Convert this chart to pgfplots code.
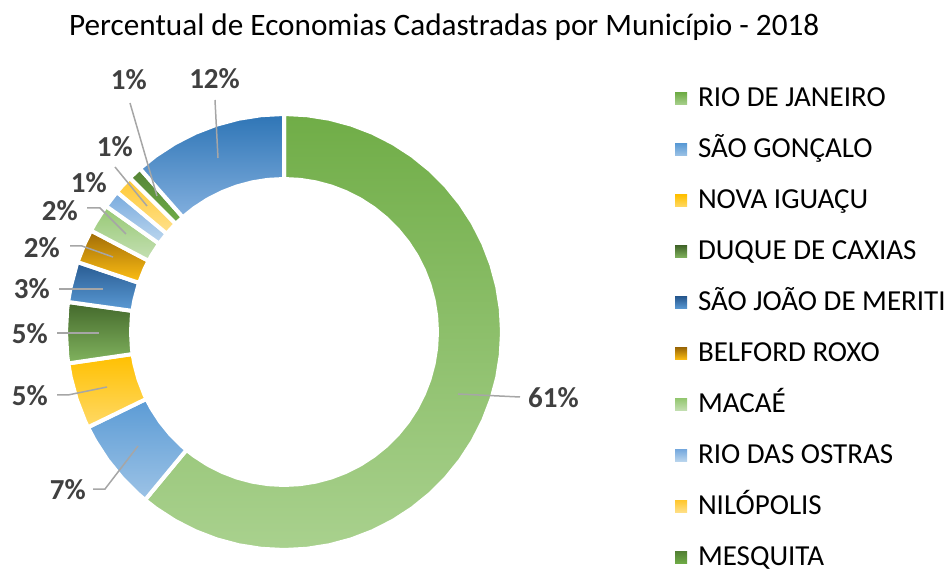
\documentclass[border=0pt]{standalone}
\usepackage{pgfplots}
\pgfplotsset{compat=1.18}
\usepackage{fontspec}
\setmainfont{Carlito}
\definecolor{rjT}{RGB}{112,173,71}\definecolor{rjB}{RGB}{169,209,142}
\definecolor{sgT}{RGB}{91,155,213}\definecolor{sgB}{RGB}{157,195,230}
\definecolor{niT}{RGB}{255,192,0}\definecolor{niB}{RGB}{255,217,102}
\definecolor{dcT}{RGB}{67,104,43}\definecolor{dcB}{RGB}{130,180,95}
\definecolor{sjT}{RGB}{40,90,145}\definecolor{sjB}{RGB}{91,155,213}
\definecolor{brT}{RGB}{158,106,6}\definecolor{brB}{RGB}{255,192,20}
\definecolor{maT}{RGB}{150,200,115}\definecolor{maB}{RGB}{197,224,180}
\definecolor{roT}{RGB}{120,170,222}\definecolor{roB}{RGB}{189,215,238}
\definecolor{nlT}{RGB}{255,200,50}\definecolor{nlB}{RGB}{255,225,140}
\definecolor{meT}{RGB}{84,130,53}\definecolor{meB}{RGB}{112,173,71}
\definecolor{ouT}{RGB}{46,117,182}\definecolor{ouB}{RGB}{130,175,222}
\definecolor{labc}{RGB}{64,64,64}
\definecolor{leadc}{RGB}{166,166,166}
\newcommand\titlefont{\fontsize{31.2}{37}\selectfont}
\newcommand\labfont{\fontsize{29}{35}\selectfont\bfseries}
\newcommand\legfont{\fontsize{29}{35}\selectfont}
\pgfplotsset{
  seg/.style n args={2}{data cs=polar, draw=white, line width=4pt, line join=round, top color=#1, bottom color=#2},
  lead/.style={forget plot, color=leadc, line width=1.5pt, no marks},
}
\begin{document}
\begin{tikzpicture}
\begin{axis}[
  at={(0,0)}, anchor=south west,
  x=1pt, y=1pt, xmin=-284, xmax=666, ymin=-241, ymax=332,
  hide axis, clip=false,
  legend image code/.code={\path[#1, draw=none] (0pt,-6pt) rectangle (12pt,6pt);},
  legend style={at={(axis cs:391,244.6)}, anchor=north west, draw=none, fill=none,
    inner sep=0pt, outer sep=0pt, row sep=28pt, column sep=11pt,
    nodes={inner sep=0pt, text height=19pt, text depth=4pt, text=black}, font=\legfont},
  legend cell align=left,
]
% RIO DE JANEIRO 61.0%
\addplot[seg={rjT}{rjB}] coordinates {
 (90,218) (84,218) (78,218) (72,218) (66,218) (60,218) (54,218) (48,218) (42,218) (36,218)
 (30,218) (24,218) (18,218) (12,218) (6,218) (0,218) (-6,218) (-12,218) (-18,218) (-24,218)
 (-30,218) (-36,218) (-42,218) (-48,218) (-54,218) (-60,218) (-66,218) (-72,218) (-78,218)
 (-84,218) (-90,218) (-96,218) (-102,218) (-108,218) (-114,218) (-120,218) (-126,218) (-129.6,218)
 (-129.6,153) (-126,153) (-120,153) (-114,153) (-108,153) (-102,153) (-96,153) (-90,153)
 (-84,153) (-78,153) (-72,153) (-66,153) (-60,153) (-54,153) (-48,153) (-42,153) (-36,153)
 (-30,153) (-24,153) (-18,153) (-12,153) (-6,153) (0,153) (6,153) (12,153) (18,153) (24,153)
 (30,153) (36,153) (42,153) (48,153) (54,153) (60,153) (66,153) (72,153) (78,153) (84,153) (90,153)
} -- cycle;
\addlegendentry{RIO DE JANEIRO}
% SAO GONCALO 6.8%
\addplot[seg={sgT}{sgB}] coordinates {
 (-129.6,218) (-132,218) (-138,218) (-144,218) (-150,218) (-154.08,218)
 (-154.08,153) (-150,153) (-144,153) (-138,153) (-132,153) (-129.6,153)
} -- cycle;
\addlegendentry{SÃO GONÇALO}
% NOVA IGUACU 4.9%
\addplot[seg={niT}{niB}] coordinates {
 (-154.08,218) (-156,218) (-162,218) (-168,218) (-171.72,218)
 (-171.72,153) (-168,153) (-162,153) (-156,153) (-154.08,153)
} -- cycle;
\addlegendentry{NOVA IGUAÇU}
% DUQUE DE CAXIAS 4.5%
\addplot[seg={dcT}{dcB}] coordinates {
 (-171.72,218) (-174,218) (-180,218) (-186,218) (-187.92,218)
 (-187.92,153) (-186,153) (-180,153) (-174,153) (-171.72,153)
} -- cycle;
\addlegendentry{DUQUE DE CAXIAS}
% SAO JOAO DE MERITI 3.0%
\addplot[seg={sjT}{sjB}] coordinates {
 (-187.92,218) (-192,218) (-198,218) (-198.72,218)
 (-198.72,153) (-198,153) (-192,153) (-187.92,153)
} -- cycle;
\addlegendentry{SÃO JOÃO DE MERITI}
% BELFORD ROXO 2.5%
\addplot[seg={brT}{brB}] coordinates {
 (-198.72,218) (-204,218) (-207.72,218)
 (-207.72,153) (-204,153) (-198.72,153)
} -- cycle;
\addlegendentry{BELFORD ROXO}
% MACAE 2.1%
\addplot[seg={maT}{maB}] coordinates {
 (-207.72,218) (-210,218) (-215.28,218)
 (-215.28,153) (-210,153) (-207.72,153)
} -- cycle;
\addlegendentry{MACAÉ}
% RIO DAS OSTRAS 1.3%
\addplot[seg={roT}{roB}] coordinates {
 (-215.28,218) (-219.96,218)
 (-219.96,153) (-215.28,153)
} -- cycle;
\addlegendentry{RIO DAS OSTRAS}
% NILOPOLIS 1.4%
\addplot[seg={nlT}{nlB}] coordinates {
 (-219.96,218) (-222,218) (-225,218)
 (-225,153) (-222,153) (-219.96,153)
} -- cycle;
\addlegendentry{NILÓPOLIS}
% MESQUITA 1.0%
\addplot[seg={meT}{meB}] coordinates {
 (-225,218) (-228.6,218)
 (-228.6,153) (-225,153)
} -- cycle;
\addlegendentry{MESQUITA}
% OUTROS 11.5%
\addplot[seg={ouT}{ouB}, forget plot] coordinates {
 (-228.6,218) (-234,218) (-240,218) (-246,218) (-252,218) (-258,218) (-264,218) (-270,218)
 (-270,153) (-264,153) (-258,153) (-252,153) (-246,153) (-240,153) (-234,153) (-228.6,153)
} -- cycle;
% leader lines
\addplot[lead] coordinates {(174,-62) (236,-65)};
\addplot[lead] coordinates {(-191,-157) (-179,-157) (-146,-114)};
\addplot[lead] coordinates {(-227,-63) (-216,-63) (-177,-55)};
\addplot[lead] coordinates {(-227,-1) (-185,-1)};
\addplot[lead] coordinates {(-225,43) (-181,43)};
\addplot[lead] coordinates {(-214,86) (-202,86) (-171,75)};
\addplot[lead] coordinates {(-197,124) (-184,124) (-158,98)};
\addplot[lead] coordinates {(-169,165) (-137,126)};
\addplot[lead] coordinates {(-154,229) (-127,136)};
\addplot[lead] coordinates {(-69,232) (-66,174)};
% labels
\tikzset{lab/.style={font=\labfont, text=labc, inner sep=0pt, anchor=east}}
\node[lab, anchor=west] at (axis cs:244,-66) {61\%};
\node[lab] at (axis cs:-198,-158) {7\%};
\node[lab] at (axis cs:-236,-64) {5\%};
\node[lab] at (axis cs:-236,-2) {5\%};
\node[lab] at (axis cs:-234,43) {3\%};
\node[lab] at (axis cs:-224,84) {2\%};
\node[lab] at (axis cs:-206,121) {2\%};
\node[lab] at (axis cs:-177,149) {1\%};
\node[lab] at (axis cs:-151,185) {1\%};
\node[lab] at (axis cs:-137,252) {1\%};
\node[lab] at (axis cs:-44,253) {12\%};
\node[anchor=base west, font=\titlefont, inner sep=0pt] at (axis cs:-215,296) {Percentual de Economias Cadastradas por Município - 2018};
\end{axis}
\pgfresetboundingbox
\useasboundingbox (0,0) rectangle (950pt,573pt);
\end{tikzpicture}
\end{document}
